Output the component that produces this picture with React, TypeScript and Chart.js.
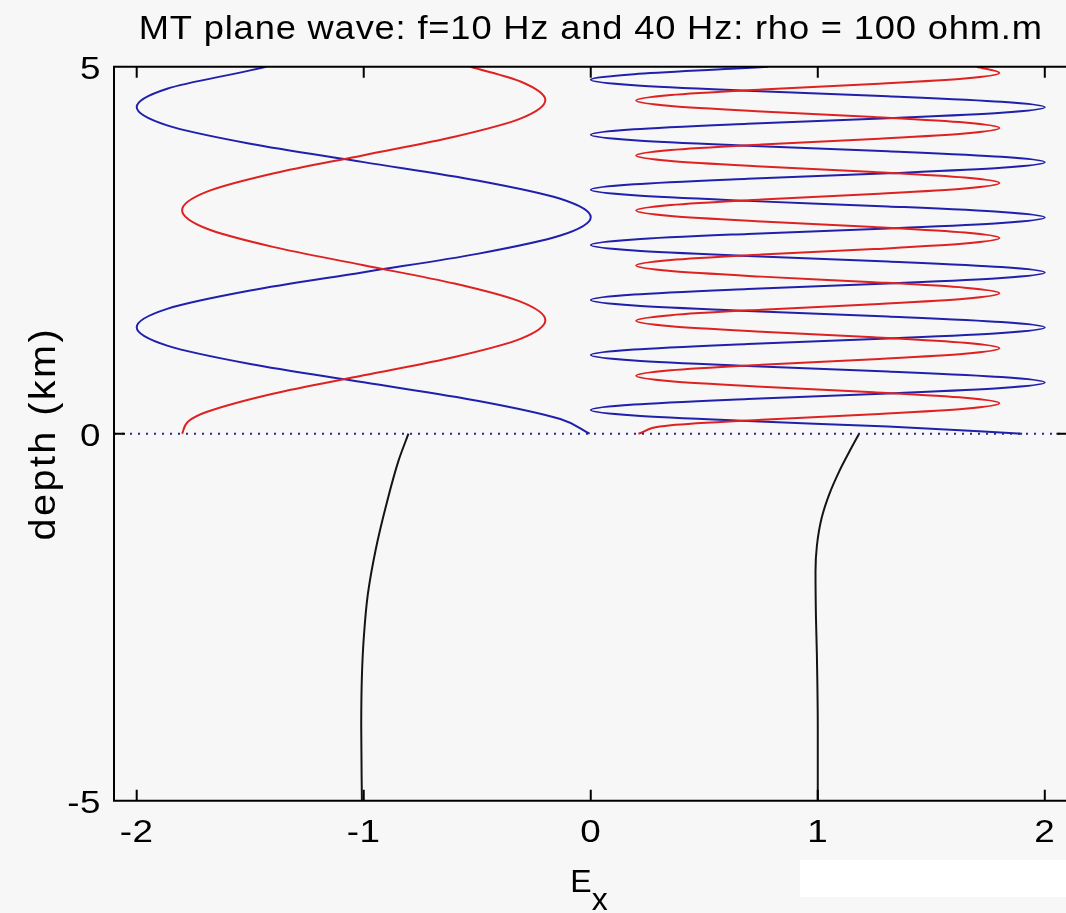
import React, { useEffect, useRef } from 'react';
import { Chart, registerables } from 'chart.js';

Chart.register(...registerables);

const TITLE = 'MT plane wave: f=10 Hz and 40 Hz: rho = 100 ohm.m';
const Y_LABEL = 'depth (km)';
const X_LABEL_MAIN = 'E';
const X_LABEL_SUB = 'x';
const X_TICKS = [-2, -1, 0, 1, 2];
const Y_TICKS = [-5, 0, 5];

// 10 Hz, above ground
const blue10Depth = [0, 0.2, 0.45, 0.7, 0.95, 1.2, 1.45, 1.7, 1.95, 2.2, 2.45, 2.7, 2.95, 3.2, 3.45, 3.7, 3.95, 4.2, 4.45, 4.7, 4.95, 5.0];
const blue10E = [-0.005, -0.134, -0.5, -1.0, -1.5, -1.866, -2.0, -1.866, -1.5, -1.0, -0.5, -0.134, 0.0, -0.134, -0.5, -1.0, -1.5, -1.866, -2.0, -1.866, -1.5, -1.43];
const red10Depth = [0, 0.17, 0.295, 0.545, 0.795, 1.045, 1.295, 1.545, 1.795, 2.045, 2.295, 2.545, 2.795, 3.045, 3.295, 3.545, 3.795, 4.045, 4.295, 4.545, 4.795, 5.0];
const red10E = [-1.8, -1.772, -1.693, -1.4, -1.0, -0.6, -0.307, -0.2, -0.307, -0.6, -1.0, -1.4, -1.693, -1.8, -1.693, -1.4, -1.0, -0.6, -0.307, -0.2, -0.307, -0.53];

// 40 Hz, above ground
const blue40Depth = [0, 0.097, 0.172, 0.247, 0.322, 0.397, 0.472, 0.547, 0.622, 0.697, 0.772, 0.847, 0.922, 0.997, 1.072, 1.147, 1.222, 1.297, 1.372, 1.447, 1.522, 1.597, 1.672, 1.747, 1.822, 1.897, 1.972, 2.047, 2.122, 2.197, 2.272, 2.347, 2.422, 2.497, 2.572, 2.647, 2.722, 2.797, 2.872, 2.947, 3.022, 3.097, 3.172, 3.247, 3.322, 3.397, 3.472, 3.547, 3.622, 3.697, 3.772, 3.847, 3.922, 3.997, 4.072, 4.147, 4.222, 4.297, 4.372, 4.447, 4.522, 4.597, 4.672, 4.747, 4.822, 4.897, 4.972, 5.0];
const blue40E = [1.9, 1.309, 0.691, 0.191,
  0, 0.191, 0.691, 1.309, 1.809, 2.0, 1.809, 1.309, 0.691, 0.191,
  0, 0.191, 0.691, 1.309, 1.809, 2.0, 1.809, 1.309, 0.691, 0.191,
  0, 0.191, 0.691, 1.309, 1.809, 2.0, 1.809, 1.309, 0.691, 0.191,
  0, 0.191, 0.691, 1.309, 1.809, 2.0, 1.809, 1.309, 0.691, 0.191,
  0, 0.191, 0.691, 1.309, 1.809, 2.0, 1.809, 1.309, 0.691, 0.191,
  0, 0.191, 0.691, 1.309, 1.809, 2.0, 1.809, 1.309, 0.691, 0.191,
  0, 0.191, 0.62, 0.78];
const red40Depth = [0, 0.115, 0.19, 0.265, 0.34, 0.415, 0.49, 0.565, 0.64, 0.715, 0.79, 0.865, 0.94, 1.015, 1.09, 1.165, 1.24, 1.315, 1.39, 1.465, 1.54, 1.615, 1.69, 1.765, 1.84, 1.915, 1.99, 2.065, 2.14, 2.215, 2.29, 2.365, 2.44, 2.515, 2.59, 2.665, 2.74, 2.815, 2.89, 2.965, 3.04, 3.115, 3.19, 3.265, 3.34, 3.415, 3.49, 3.565, 3.64, 3.715, 3.79, 3.865, 3.94, 4.015, 4.09, 4.165, 4.24, 4.315, 4.39, 4.465, 4.54, 4.615, 4.69, 4.765, 4.84, 4.915, 5.0];
const red40E = [0.21,
  0.353, 0.753, 1.247, 1.647, 1.8, 1.647, 1.247, 0.753, 0.353, 0.2,
  0.353, 0.753, 1.247, 1.647, 1.8, 1.647, 1.247, 0.753, 0.353, 0.2,
  0.353, 0.753, 1.247, 1.647, 1.8, 1.647, 1.247, 0.753, 0.353, 0.2,
  0.353, 0.753, 1.247, 1.647, 1.8, 1.647, 1.247, 0.753, 0.353, 0.2,
  0.353, 0.753, 1.247, 1.647, 1.8, 1.647, 1.247, 0.753, 0.353, 0.2,
  0.353, 0.753, 1.247, 1.647, 1.8, 1.647, 1.247, 0.753, 0.353, 0.2,
  0.353, 0.753, 1.247, 1.647, 1.8, 1.7];

// below ground (decaying fields)
const black10Depth = [-5, -4.0, -3.3, -2.79, -2.19, -1.56, -0.96, -0.37, 0];
const black10E = [-1.008, -1.011, -1.008, -1.0, -0.982, -0.946, -0.9, -0.847, -0.803];
const black40Depth = [-5, -4, -3, -2.5, -1.88, -1.53, -1.15, -0.83, -0.51, -0.24, 0];
const black40E = [1.0, 1.0, 0.996, 0.992, 0.99, 0.996, 1.017, 1.05, 1.095, 1.14, 1.182];

// surface marker (dotted)
const surfaceE = [-2.1, 2.1];
const surfaceDepth = [0, 0];

const FONT = "'Liberation Sans', Arial, Helvetica, sans-serif";
const BLUE = '#2020ac';
const RED = '#de2222';
const BLACK = '#141414';
const BG = '#f7f7f7';

const pts = (e: number[], d: number[]) => d.map((y, i) => ({ x: e[i], y }));

// Wrap a Chart.js draw method so its text is widened (glyph stretch + letter spacing),
// mimicking the wide Helvetica rendering of the original figure.
const widenText = (chart: any, obj: any, key: string, sx: number, spacing: string) => {
  if (!obj || obj['__wide_' + key]) return;
  const orig = obj[key].bind(obj);
  obj[key] = (...args: any[]) => {
    const c = chart.ctx;
    const prevSpacing = c.letterSpacing;
    const origFill = c.fillText;
    c.letterSpacing = spacing;
    c.fillText = function (t: string, x: number, y: number, mw?: number) {
      c.save();
      c.scale(sx, 1);
      if (mw === undefined) origFill.call(c, t, x / sx, y);
      else origFill.call(c, t, x / sx, y, mw / sx);
      c.restore();
    };
    try {
      orig(...args);
    } finally {
      c.fillText = origFill;
      c.letterSpacing = prevSpacing || '0px';
    }
  };
  obj['__wide_' + key] = true;
};

const framePlugin = {
  id: 'matlabFrame',
  beforeDraw(chart: any) {
    const { ctx, width, height } = chart;
    ctx.save();
    ctx.fillStyle = BG;
    ctx.fillRect(0, 0, width, height);
    ctx.fillStyle = '#ffffff';
    ctx.fillRect(800, 860, 280, 37);
    ctx.restore();
    widenText(chart, chart.titleBlock, 'draw', 1.1, '0.75px');
    widenText(chart, chart.scales.y, 'drawTitle', 1.1, '2.2px');
    widenText(chart, chart.scales.x, 'drawLabels', 1.15, '0.5px');
    widenText(chart, chart.scales.y, 'drawLabels', 1.15, '0.5px');
  },
  afterDraw(chart: any) {
    const { ctx, chartArea: a, scales } = chart;
    const xs = scales.x;
    const ys = scales.y;
    const tl = 11;
    ctx.save();
    ctx.strokeStyle = '#000';
    ctx.lineWidth = 2;
    ctx.beginPath();
    ctx.rect(a.left, a.top, a.right - a.left, a.bottom - a.top);
    X_TICKS.forEach((v) => {
      const p = xs.getPixelForValue(v);
      ctx.moveTo(p, a.bottom);
      ctx.lineTo(p, a.bottom - tl);
      ctx.moveTo(p, a.top);
      ctx.lineTo(p, a.top + tl);
    });
    Y_TICKS.forEach((v) => {
      const p = ys.getPixelForValue(v);
      ctx.moveTo(a.left, p);
      ctx.lineTo(a.left + tl, p);
      ctx.moveTo(a.right, p);
      ctx.lineTo(a.right - tl, p);
    });
    ctx.stroke();
    // x-axis label E with subscript x
    const cx = (a.left + a.right) / 2;
    ctx.fillStyle = '#000';
    ctx.textAlign = 'left';
    ctx.textBaseline = 'alphabetic';
    ctx.font = `32px ${FONT}`;
    ctx.fillText(X_LABEL_MAIN, cx - 20.5, 892);
    ctx.fillText(X_LABEL_SUB, cx + 1, 910);
    ctx.restore();
  },
};

export default function App() {
  const ref = useRef<HTMLCanvasElement | null>(null);

  useEffect(() => {
    document.body.style.margin = '0';
    const canvas = ref.current;
    if (!canvas) return;
    const line = (data: any[], color: string, extra: any = {}) => ({
      data,
      borderColor: color,
      backgroundColor: color,
      borderWidth: 2,
      pointRadius: 0,
      fill: false,
      indexAxis: 'y',
      cubicInterpolationMode: 'monotone',
      ...extra,
    });
    const chart = new Chart(canvas, {
      type: 'line',
      data: {
        datasets: [
          line(pts(surfaceE, surfaceDepth), '#26268f', { indexAxis: 'x', cubicInterpolationMode: 'default', borderDash: [2, 6], borderWidth: 2 }),
          line(pts(red10E, red10Depth), RED),
          line(pts(blue10E, blue10Depth), BLUE),
          line(pts(red40E, red40Depth), RED),
          line(pts(blue40E, blue40Depth), BLUE),
          line(pts(black10E, black10Depth), BLACK),
          line(pts(black40E, black40Depth), BLACK),
        ] as any,
      },
      options: {
        responsive: false,
        animation: false,
        devicePixelRatio: 1,
        layout: { padding: { left: 0, right: 4.5, top: 0, bottom: 0 } },
        plugins: {
          legend: { display: false },
          tooltip: { enabled: false },
          title: {
            display: true,
            text: TITLE,
            fullSize: false,
            color: '#000',
            font: { family: FONT, size: 33, weight: 'normal', lineHeight: 1.2 },
            padding: { top: 10, bottom: 17.1 },
          },
        },
        scales: {
          x: {
            type: 'linear',
            min: -2.1,
            max: 2.1,
            afterBuildTicks: (s: any) => { s.ticks = X_TICKS.map((v) => ({ value: v })); },
            afterFit: (s: any) => { s.height = 112.3; },
            grid: { display: false, drawTicks: false },
            border: { display: false },
            ticks: {
              color: '#000',
              padding: 13,
              maxRotation: 0,
              autoSkip: false,
              font: { family: FONT, size: 32 },
              callback: (v: any) => String(v),
            },
          },
          y: {
            type: 'linear',
            min: -5,
            max: 5,
            afterBuildTicks: (s: any) => { s.ticks = Y_TICKS.map((v) => ({ value: v })); },
            afterFit: (s: any) => { s.width = 114; },
            grid: { display: false, drawTicks: false },
            border: { display: false },
            title: {
              display: true,
              text: Y_LABEL,
              color: '#000',
              font: { family: FONT, size: 36, lineHeight: 1.2 },
              padding: { top: 23.4, bottom: 0 },
            },
            ticks: {
              color: '#000',
              padding: 13,
              labelOffset: 3,
              autoSkip: false,
              font: { family: FONT, size: 32 },
              callback: (v: any) => String(v),
            },
          },
        },
      } as any,
      plugins: [framePlugin],
    });
    return () => chart.destroy();
  }, []);

  return (
    <div style={{ position: 'fixed', left: 0, top: 0, width: 1066, height: 913, overflow: 'hidden', background: BG }}>
      <canvas ref={ref} width={1072} height={913} style={{ display: 'block', width: 1072, height: 913 }} />
    </div>
  );
}
